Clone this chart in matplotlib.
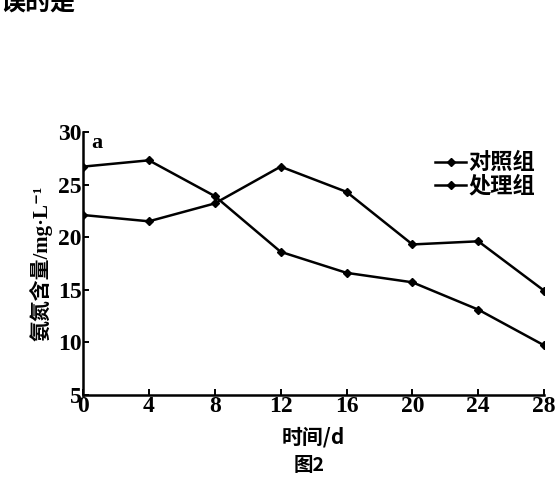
import matplotlib.pyplot as plt

plt.rcParams['font.family'] = ['Liberation Serif', 'Noto Sans CJK SC', 'DejaVu Sans']

days = [0, 4, 8, 12, 16, 20, 24, 28]
duizhao = [22.1, 21.5, 23.2, 26.7, 24.3, 19.3, 19.6, 14.9]
chuli = [26.7, 27.3, 23.9, 18.6, 16.6, 15.7, 13.1, 9.7]
xticks = [0, 4, 8, 12, 16, 20, 24, 28]
yticks = [5, 10, 15, 20, 25, 30]

cjk = ['Noto Sans CJK SC', 'DejaVu Sans']

fig = plt.figure(figsize=(5.57, 4.78), dpi=100)
ax = fig.add_axes([0.149, 0.174, 0.828, 0.55])

ax.plot(days, duizhao, color='black', lw=1.8, marker='D', ms=4, label='对照组')
ax.plot(days, chuli, color='black', lw=1.8, marker='D', ms=4, label='处理组')

ax.set_xlim(0, 28)
ax.set_ylim(5, 30)
ax.set_xticks(xticks)
ax.set_yticks(yticks)
ax.spines['top'].set_visible(False)
ax.spines['right'].set_visible(False)
ax.spines['left'].set_linewidth(1.8)
ax.spines['bottom'].set_linewidth(1.8)
ax.tick_params(direction='in', length=4, width=1.4, labelsize=17, pad=1)
for lab in ax.get_xticklabels() + ax.get_yticklabels():
    lab.set_fontweight('bold')

ax.text(0.5, 28.5, 'a', fontsize=16, fontweight='bold')

ax.set_ylabel('氨氮含量/mg·L⁻¹', fontsize=15, fontweight='bold',
              family=['Liberation Serif', 'Noto Sans CJK SC', 'DejaVu Sans'], labelpad=4)
ax.set_xlabel('时间/d', fontsize=15, fontweight='bold', family=cjk, labelpad=7)
fig.text(0.555, 0.026, '图2', fontsize=14, fontweight='bold', ha='center', va='center', family=cjk)
fig.text(0.0, 0.995, '误的是', fontsize=18, fontweight='bold', va='center', family=cjk)

leg = ax.legend(loc='upper right', bbox_to_anchor=(1.0, 0.96), frameon=False,
                prop={'family': 'Noto Sans CJK SC', 'size': 16, 'weight': 'bold'},
                handlelength=1.4, handletextpad=0.1, labelspacing=0.0, borderaxespad=0)

fig.savefig('out.png', dpi=100)
